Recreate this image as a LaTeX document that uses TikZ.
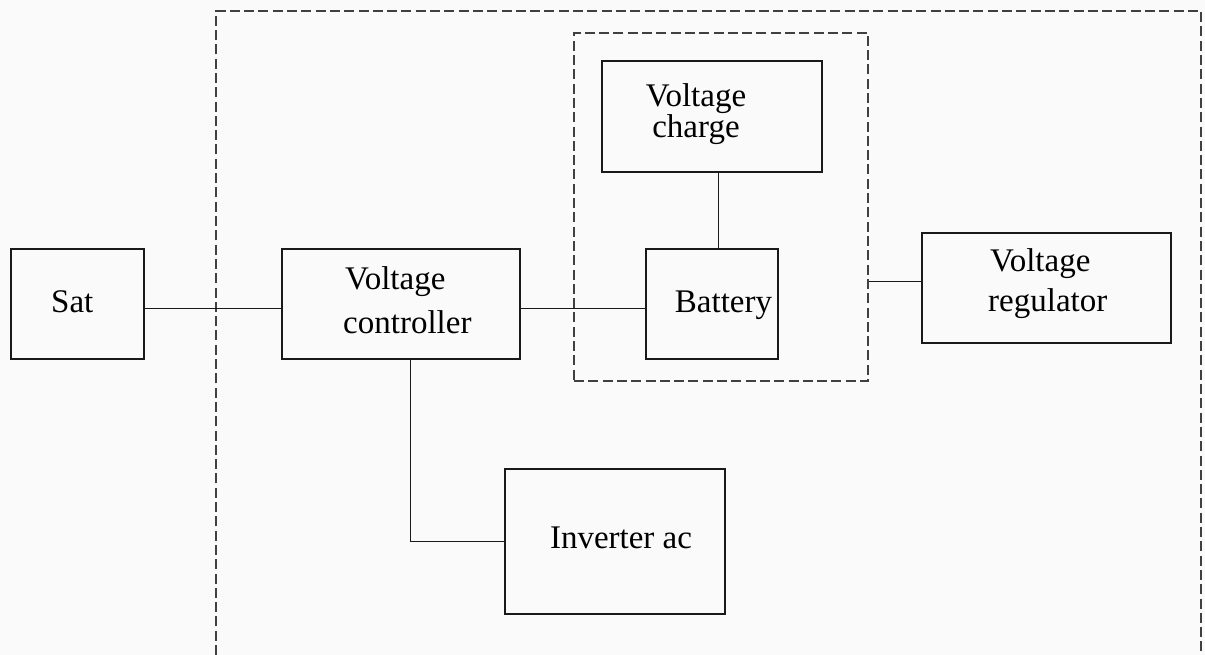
\documentclass[tikz,border=0pt]{standalone}
\usepackage{fontspec}
\setmainfont{Liberation Serif}
\begin{document}
\begin{tikzpicture}[x=1pt,y=-1pt,
  boxst/.style={draw=black!90, line width=1.6pt, rectangle, inner sep=0pt},
  dashst/.style={draw=black!75, line width=1.8pt, dash pattern=on 10pt off 4.3pt},
  wire/.style={draw=black!90, line width=1.7pt},
  txt/.style={inner sep=0pt, font=\fontsize{33}{38}\selectfont}]
\fill[white!98!black] (0,0) rectangle (1205,655);
\useasboundingbox (0,0) rectangle (1205,655);
% outer dashed boundary (open at bottom)
\draw[dashst] (216,655) -- (216,11) -- (1201,11) -- (1201,655);
% inner dashed box
\node[dashst, rectangle, inner sep=0pt, minimum width=294pt, minimum height=348pt] (inner) at (721,207) {};
% boxes
\node[boxst, minimum width=133pt, minimum height=110pt] (sat) at (77.5,304) {};
\node[boxst, minimum width=238pt, minimum height=110pt] (ctrl) at (401,304) {};
\node[boxst, minimum width=220pt, minimum height=111pt] (chg) at (712,116.5) {};
\node[boxst, minimum width=132pt, minimum height=110pt] (bat) at (712,304) {};
\node[boxst, minimum width=249pt, minimum height=110pt] (reg) at (1046.5,288) {};
\node[boxst, minimum width=220pt, minimum height=145pt] (inv) at (615,541.5) {};
% texts
\node[txt, anchor=base] (satT) at (72.3,312) {Sat};
\node[txt, anchor=base west] (ctrlT1) at (345,290) {Voltage};
\node[txt, anchor=base west] (ctrlT2) at (343,333) {controller};
\node[txt, anchor=base] (chgT1) at (696,107) {Voltage};
\node[txt, anchor=base] (chgT2) at (696,138) {charge};
\node[txt, anchor=base] (batT) at (723.5,312) {Battery};
\node[txt, anchor=base west] (regT1) at (990,272) {Voltage};
\node[txt, anchor=base west] (regT2) at (988,311) {regulator};
\node[txt, anchor=base] (invT) at (621,548) {Inverter ac};
% connectors
\draw[wire] ([yshift=-4.5pt]sat.east) -- ([yshift=-4.5pt]ctrl.west);
\draw[wire] ([yshift=-4.5pt]ctrl.east) -- ([yshift=-4.5pt]bat.west);
\draw[wire] ([xshift=6.5pt]chg.south) -- ([xshift=6.5pt]bat.north);
\coordinate (regin) at ([yshift=6.5pt]reg.west);
\draw[wire] (regin) -- (regin -| inner.east);
\draw[wire] ([xshift=9.5pt]ctrl.south) |- (inv.west);
\end{tikzpicture}
\end{document}
